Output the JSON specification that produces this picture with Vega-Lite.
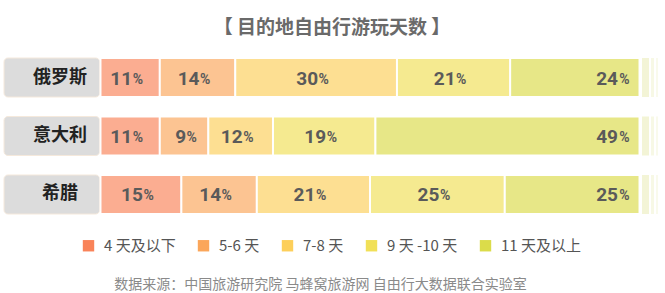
{
  "$schema": "https://vega.github.io/schema/vega-lite/v6.json",
  "width": 656,
  "height": 156,
  "autosize": {"type": "none"},
  "padding": {"left": 4, "top": 58, "right": 5, "bottom": 79},
  "background": "white",
  "config": {"view": {"stroke": null}, "font": "Noto Sans CJK SC"},
  "title": {"text": "【 目的地自由行游玩天数 】", "fontSize": 19, "fontWeight": "bold", "color": "#6A6A6A", "anchor": "middle", "offset": 19, "font": "Noto Sans CJK SC"},
  "datasets": {
    "days": [
      {"country": "俄罗斯", "cat": "4 天及以下", "order": 1, "pct": 11},
      {"country": "俄罗斯", "cat": "5-6 天", "order": 2, "pct": 14},
      {"country": "俄罗斯", "cat": "7-8 天", "order": 3, "pct": 30},
      {"country": "俄罗斯", "cat": "9 天 -10 天", "order": 4, "pct": 21},
      {"country": "俄罗斯", "cat": "11 天及以上", "order": 5, "pct": 24},
      {"country": "意大利", "cat": "4 天及以下", "order": 1, "pct": 11},
      {"country": "意大利", "cat": "5-6 天", "order": 2, "pct": 9},
      {"country": "意大利", "cat": "7-8 天", "order": 3, "pct": 12},
      {"country": "意大利", "cat": "9 天 -10 天", "order": 4, "pct": 19},
      {"country": "意大利", "cat": "11 天及以上", "order": 5, "pct": 49},
      {"country": "希腊", "cat": "4 天及以下", "order": 1, "pct": 15},
      {"country": "希腊", "cat": "5-6 天", "order": 2, "pct": 14},
      {"country": "希腊", "cat": "7-8 天", "order": 3, "pct": 21},
      {"country": "希腊", "cat": "9 天 -10 天", "order": 4, "pct": 25},
      {"country": "希腊", "cat": "11 天及以上", "order": 5, "pct": 25}
    ],
    "countries": [
      {"country": "俄罗斯"},
      {"country": "意大利"},
      {"country": "希腊"}
    ]
  },
  "encoding": {
    "y": {"field": "country", "type": "nominal", "sort": ["俄罗斯", "意大利", "希腊"], "scale": {"paddingInner": 0.333, "paddingOuter": 0}, "axis": null}
  },
  "layer": [
    {
      "data": {"name": "countries"},
      "mark": {"type": "bar", "color": "#DCDCDC", "cornerRadius": 4, "stroke": "#F5E9DC", "strokeWidth": 1},
      "encoding": {
        "x": {"datum": -17.9, "type": "quantitative", "scale": {"domain": [-17.9, 103.8], "nice": false, "zero": false},
          "axis": {"orient": "bottom", "domain": false, "ticks": false, "labels": false, "grid": false, "title": "数据来源：中国旅游研究院 马蜂窝旅游网 自由行大数据联合实验室", "titleFontSize": 14, "titleFontWeight": "normal", "titleColor": "#8A8A8A", "titleX": 316, "titleY": 70, "titleAlign": "center", "titleBaseline": "middle", "titleFont": "Noto Sans CJK SC"}},
        "x2": {"datum": -0.15}
      }
    },
    {
      "data": {"name": "countries"},
      "mark": {"type": "text", "fontSize": 18, "fontWeight": "bold", "color": "#222222", "align": "center", "baseline": "middle", "font": "Noto Sans CJK SC"},
      "encoding": {
        "x": {"datum": -7.5, "type": "quantitative"},
        "text": {"field": "country"}
      }
    },
    {
      "data": {"name": "countries"},
      "mark": {"type": "bar", "color": "#F0F1CC", "opacity": 0.8},
      "encoding": {"x": {"datum": 100.46, "type": "quantitative"}, "x2": {"datum": 101.76}}
    },
    {
      "data": {"name": "countries"},
      "mark": {"type": "bar", "color": "#F2F3D3", "opacity": 0.6},
      "encoding": {"x": {"datum": 102.13, "type": "quantitative"}, "x2": {"datum": 102.69}}
    },
    {
      "data": {"name": "countries"},
      "mark": {"type": "bar", "color": "#F4F5DA", "opacity": 0.5},
      "encoding": {"x": {"datum": 103.06, "type": "quantitative"}, "x2": {"datum": 103.43}}
    },
    {
      "data": {"name": "days"},
      "transform": [
        {"stack": "pct", "groupby": ["country"], "sort": [{"field": "order", "order": "ascending"}], "as": ["x0", "x1"]}
      ],
      "mark": {"type": "bar", "opacity": 0.66, "stroke": "white", "strokeWidth": 2},
      "encoding": {
        "x": {"field": "x0", "type": "quantitative"},
        "x2": {"field": "x1"},
        "color": {"field": "cat", "type": "nominal",
          "scale": {"domain": ["4 天及以下", "5-6 天", "7-8 天", "9 天 -10 天", "11 天及以上"], "range": ["#F98359", "#FBA65A", "#FDCF5A", "#F1E057", "#DBDC4A"]},
          "legend": {"orient": "none", "legendX": 77, "legendY": 180, "direction": "horizontal", "title": null, "symbolType": "square", "symbolSize": 130, "symbolOpacity": 1, "symbolStrokeWidth": 0, "labelFontSize": 15, "labelColor": "#555555", "labelFont": "Noto Sans CJK SC", "labelOffset": 8, "columnPadding": 20, "padding": 0}}
      }
    },
    {
      "data": {"name": "days"},
      "transform": [
        {"stack": "pct", "groupby": ["country"], "sort": [{"field": "order", "order": "ascending"}], "as": ["x0", "x1"]},
        {"filter": "datum.order < 5"},
        {"calculate": "(datum.x0 + datum.x1) / 2", "as": "mid"}
      ],
      "layer": [
        {"mark": {"type": "text", "align": "right", "baseline": "middle", "dx": 2, "dy": 1, "font": "Roboto", "fontWeight": "bold", "fontSize": 19, "color": "#5A5A5A"},
         "encoding": {"x": {"field": "mid", "type": "quantitative"}, "text": {"field": "pct"}}},
        {"mark": {"type": "text", "align": "left", "baseline": "middle", "dx": 2.5, "dy": 2, "font": "Roboto", "fontWeight": "bold", "fontSize": 14, "color": "#5A5A5A", "text": "%"},
         "encoding": {"x": {"field": "mid", "type": "quantitative"}}}
      ]
    },
    {
      "data": {"name": "days"},
      "transform": [
        {"stack": "pct", "groupby": ["country"], "sort": [{"field": "order", "order": "ascending"}], "as": ["x0", "x1"]},
        {"filter": "datum.order == 5"}
      ],
      "layer": [
        {"mark": {"type": "text", "align": "right", "baseline": "middle", "dx": -21.5, "dy": 1, "font": "Roboto", "fontWeight": "bold", "fontSize": 19, "color": "#5A5A5A"},
         "encoding": {"x": {"field": "x1", "type": "quantitative"}, "text": {"field": "pct"}}},
        {"mark": {"type": "text", "align": "right", "baseline": "middle", "dx": -10, "dy": 2, "font": "Roboto", "fontWeight": "bold", "fontSize": 14, "color": "#5A5A5A", "text": "%"},
         "encoding": {"x": {"field": "x1", "type": "quantitative"}}}
      ]
    }
  ]
}
